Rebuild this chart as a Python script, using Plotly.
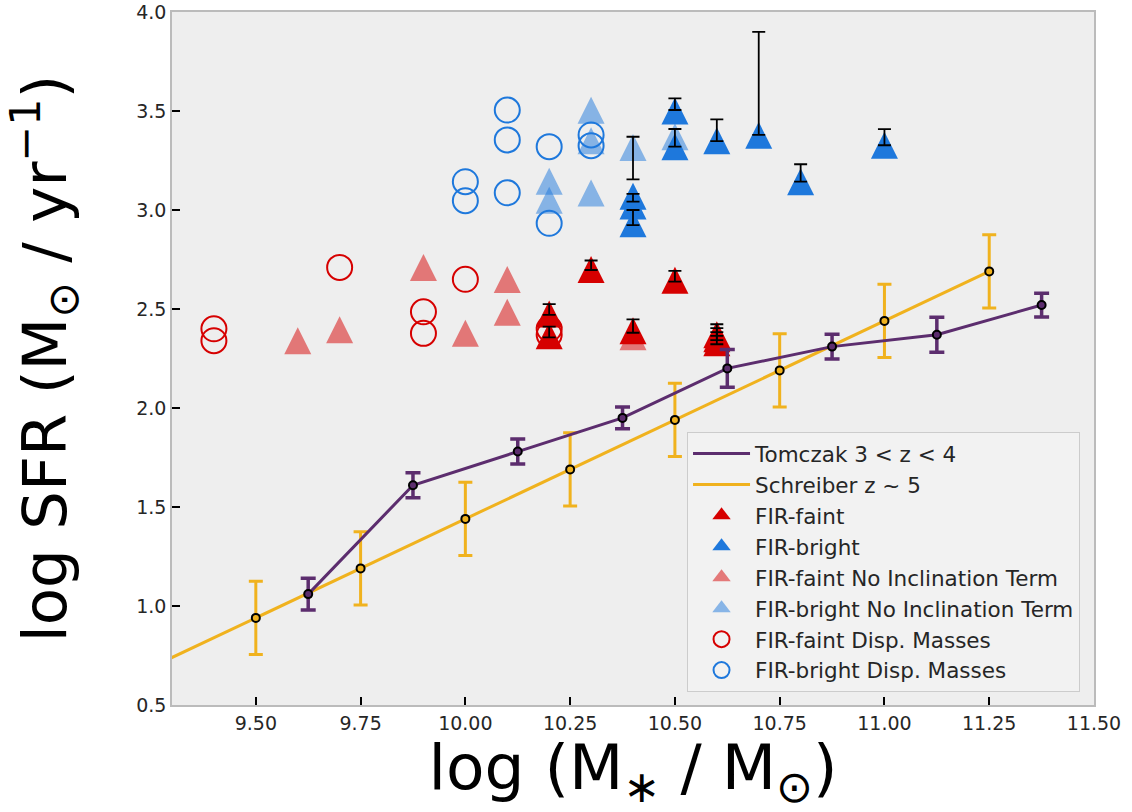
import plotly.graph_objects as go

# ---------------- data ----------------
# Tomczak 3 < z < 4 main sequence
tom_x = [9.625, 9.875, 10.125, 10.375, 10.625, 10.875, 11.125, 11.375]
tom_y = [1.06, 1.61, 1.78, 1.95, 2.20, 2.31, 2.37, 2.52]
tom_err = [0.08, 0.063, 0.063, 0.055, 0.095, 0.063, 0.088, 0.06]

# Schreiber z ~ 5 main sequence
sch_x = [9.50, 9.75, 10.00, 10.25, 10.50, 10.75, 11.00, 11.25]
sch_y = [0.94, 1.19, 1.44, 1.69, 1.94, 2.19, 2.44, 2.69]
sch_err = [0.185, 0.185, 0.185, 0.185, 0.185, 0.185, 0.185, 0.185]
sch_line_x = [9.0, 11.25]
sch_line_y = [0.44, 2.69]

# FIR-faint (with inclination term)
faint_x = [10.2, 10.2, 10.3, 10.4, 10.5, 10.6, 10.6, 10.6]
faint_y = [2.475, 2.365, 2.70, 2.39, 2.645, 2.37, 2.35, 2.33]
faint_err_lo = [2.470, 2.357, 2.697, 2.380, 2.638, 2.364, 2.343, 2.322]
faint_err_hi = [2.525, 2.411, 2.745, 2.448, 2.693, 2.423, 2.403, 2.383]

# FIR-bright (with inclination term)
bright_x = [10.4, 10.4, 10.4, 10.5, 10.5, 10.6, 10.7, 10.8, 11.0]
bright_y = [3.07, 3.02, 2.93, 3.50, 3.32, 3.35, 3.377, 3.143, 3.327]
bright_err_lo = [3.155, 3.042, 2.924, 3.505, 3.320, 3.348, 3.379, 3.143, 3.327]
bright_err_hi = [3.370, 3.081, 3.000, 3.564, 3.409, 3.458, 3.900, 3.231, 3.408]

# No inclination term
faint_noinc_x = [9.6, 9.7, 9.9, 10.0, 10.1, 10.1, 10.4]
faint_noinc_y = [2.34, 2.395, 2.71, 2.377, 2.649, 2.484, 2.36]
bright_noinc_x = [10.2, 10.2, 10.3, 10.3, 10.3, 10.4, 10.5]
bright_noinc_y = [3.145, 3.049, 3.504, 3.35, 3.086, 3.316, 3.37]

# Dispersion masses
faint_disp_x = [9.4, 9.4, 9.7, 9.9, 9.9, 10.0, 10.2, 10.2]
faint_disp_y = [2.40, 2.34, 2.71, 2.486, 2.377, 2.65, 2.40, 2.37]
bright_disp_x = [10.0, 10.0, 10.1, 10.1, 10.1, 10.2, 10.2, 10.3, 10.3]
bright_disp_y = [3.143, 3.047, 3.505, 3.354, 3.087, 3.32, 2.933, 3.379, 3.325]

legend_labels = ["Tomczak 3 < z < 4", "Schreiber z ~ 5", "FIR-faint", "FIR-bright",
                 "FIR-faint No Inclination Term", "FIR-bright No Inclination Term",
                 "FIR-faint Disp. Masses", "FIR-bright Disp. Masses"]

# ---------------- styles ----------------
RED = "#D60000"
BLUE = "#1E78DC"
RED_F = "rgba(214,0,0,0.5)"
BLUE_F = "rgba(30,120,220,0.5)"
PURPLE = "#5C2D6E"
ORANGE = "#F0B21E"
TRI = 27

fig = go.Figure()


def tri_trace(x, y, color):
    return go.Scatter(x=x, y=y, mode="markers", showlegend=False, hoverinfo="skip",
                      marker=dict(symbol="arrow-down", angle=180, standoff=TRI / 2,
                                  size=TRI, color=color, line=dict(width=0)))


def circ_trace(x, y, color):
    return go.Scatter(x=x, y=y, mode="markers", showlegend=False, hoverinfo="skip",
                      marker=dict(symbol="circle-open", size=25, color=color,
                                  line=dict(width=2, color=color)))


def err_trace(x, lo, hi):
    return go.Scatter(x=x, y=lo, mode="markers", showlegend=False, hoverinfo="skip",
                      marker=dict(size=2, color="rgba(0,0,0,0)"),
                      error_y=dict(type="data", symmetric=False,
                                   array=[h - l for h, l in zip(hi, lo)],
                                   arrayminus=[0] * len(lo),
                                   color="black", thickness=1.8, width=6.5))


fig.add_trace(tri_trace(faint_noinc_x, faint_noinc_y, RED_F))
fig.add_trace(tri_trace(bright_noinc_x, bright_noinc_y, BLUE_F))
fig.add_trace(tri_trace(faint_x, faint_y, RED))
fig.add_trace(tri_trace(bright_x, bright_y, BLUE))
fig.add_trace(circ_trace(faint_disp_x, faint_disp_y, RED))
fig.add_trace(circ_trace(bright_disp_x, bright_disp_y, BLUE))
fig.add_trace(err_trace(faint_x, faint_err_lo, faint_err_hi))
fig.add_trace(err_trace(bright_x, bright_err_lo, bright_err_hi))

# Schreiber relation
fig.add_trace(go.Scatter(x=sch_line_x, y=sch_line_y, mode="lines", showlegend=False,
                         hoverinfo="skip", line=dict(color=ORANGE, width=3)))
fig.add_trace(go.Scatter(x=sch_x, y=sch_y, mode="markers", showlegend=False,
                         error_y=dict(type="data", array=sch_err, color=ORANGE,
                                      thickness=3, width=7),
                         marker=dict(size=8, color=ORANGE, line=dict(color="black", width=2))))
# Tomczak relation
fig.add_trace(go.Scatter(x=tom_x, y=tom_y, mode="lines+markers", showlegend=False,
                         line=dict(color=PURPLE, width=3),
                         error_y=dict(type="data", array=tom_err, color=PURPLE,
                                      thickness=3.5, width=7.5),
                         marker=dict(size=8, color=PURPLE, line=dict(color="black", width=2))))

# ---------------- legend entries ----------------
leg_styles = [
    dict(mode="lines", line=dict(color=PURPLE, width=3)),
    dict(mode="lines", line=dict(color=ORANGE, width=3)),
    dict(mode="markers", marker=dict(symbol="triangle-up", size=16, color=RED)),
    dict(mode="markers", marker=dict(symbol="triangle-up", size=16, color=BLUE)),
    dict(mode="markers", marker=dict(symbol="triangle-up", size=16, color=RED_F)),
    dict(mode="markers", marker=dict(symbol="triangle-up", size=16, color=BLUE_F)),
    dict(mode="markers", marker=dict(symbol="circle-open", size=16, color=RED, line=dict(width=2))),
    dict(mode="markers", marker=dict(symbol="circle-open", size=16, color=BLUE, line=dict(width=2))),
]
for i, (name, st) in enumerate(zip(legend_labels, leg_styles)):
    fig.add_trace(go.Scatter(x=[None], y=[None], name=name, legendrank=i + 1, **st))

fig.update_layout(
    width=1132, height=812,
    margin=dict(l=172, r=38, t=12, b=107, autoexpand=False),
    paper_bgcolor="white", plot_bgcolor="#EEEEEE",
    font=dict(family="DejaVu Sans", color="#262626"),
    legend=dict(x=0.5586, y=0.0188, xanchor="left", yanchor="bottom",
                bgcolor="rgba(241,241,241,0.95)", bordercolor="#CCCCCC", borderwidth=1,
                font=dict(size=21.5, color="#262626"), tracegroupgap=0, itemwidth=57),
    xaxis=dict(range=[9.3, 11.5], tick0=9.5, dtick=0.25, tickformat=".2f",
               ticks="inside", ticklen=8, tickwidth=1.5, tickcolor="black",
               showline=True, linecolor="#BBBBBB", linewidth=1.5, mirror=True,
               showgrid=False, zeroline=False, tickfont=dict(size=19), automargin=False,
               title=dict(text="log (M<sub>∗</sub> / M<sub>⊙</sub>)",
                          font=dict(size=63, color="black"), standoff=14)),
    yaxis=dict(range=[0.5, 4.0], tick0=0.5, dtick=0.5, tickformat=".1f",
               ticks="inside", ticklen=8, tickwidth=1.5, tickcolor="black",
               showline=True, linecolor="#BBBBBB", linewidth=1.5, mirror=True,
               showgrid=False, zeroline=False, tickfont=dict(size=19), automargin=False,
               title=dict(text="log SFR (M<sub>⊙</sub> / yr<sup>−1</sup>)",
                          font=dict(size=61, color="black"), standoff=52)),
)

fig.write_html("out.html")
